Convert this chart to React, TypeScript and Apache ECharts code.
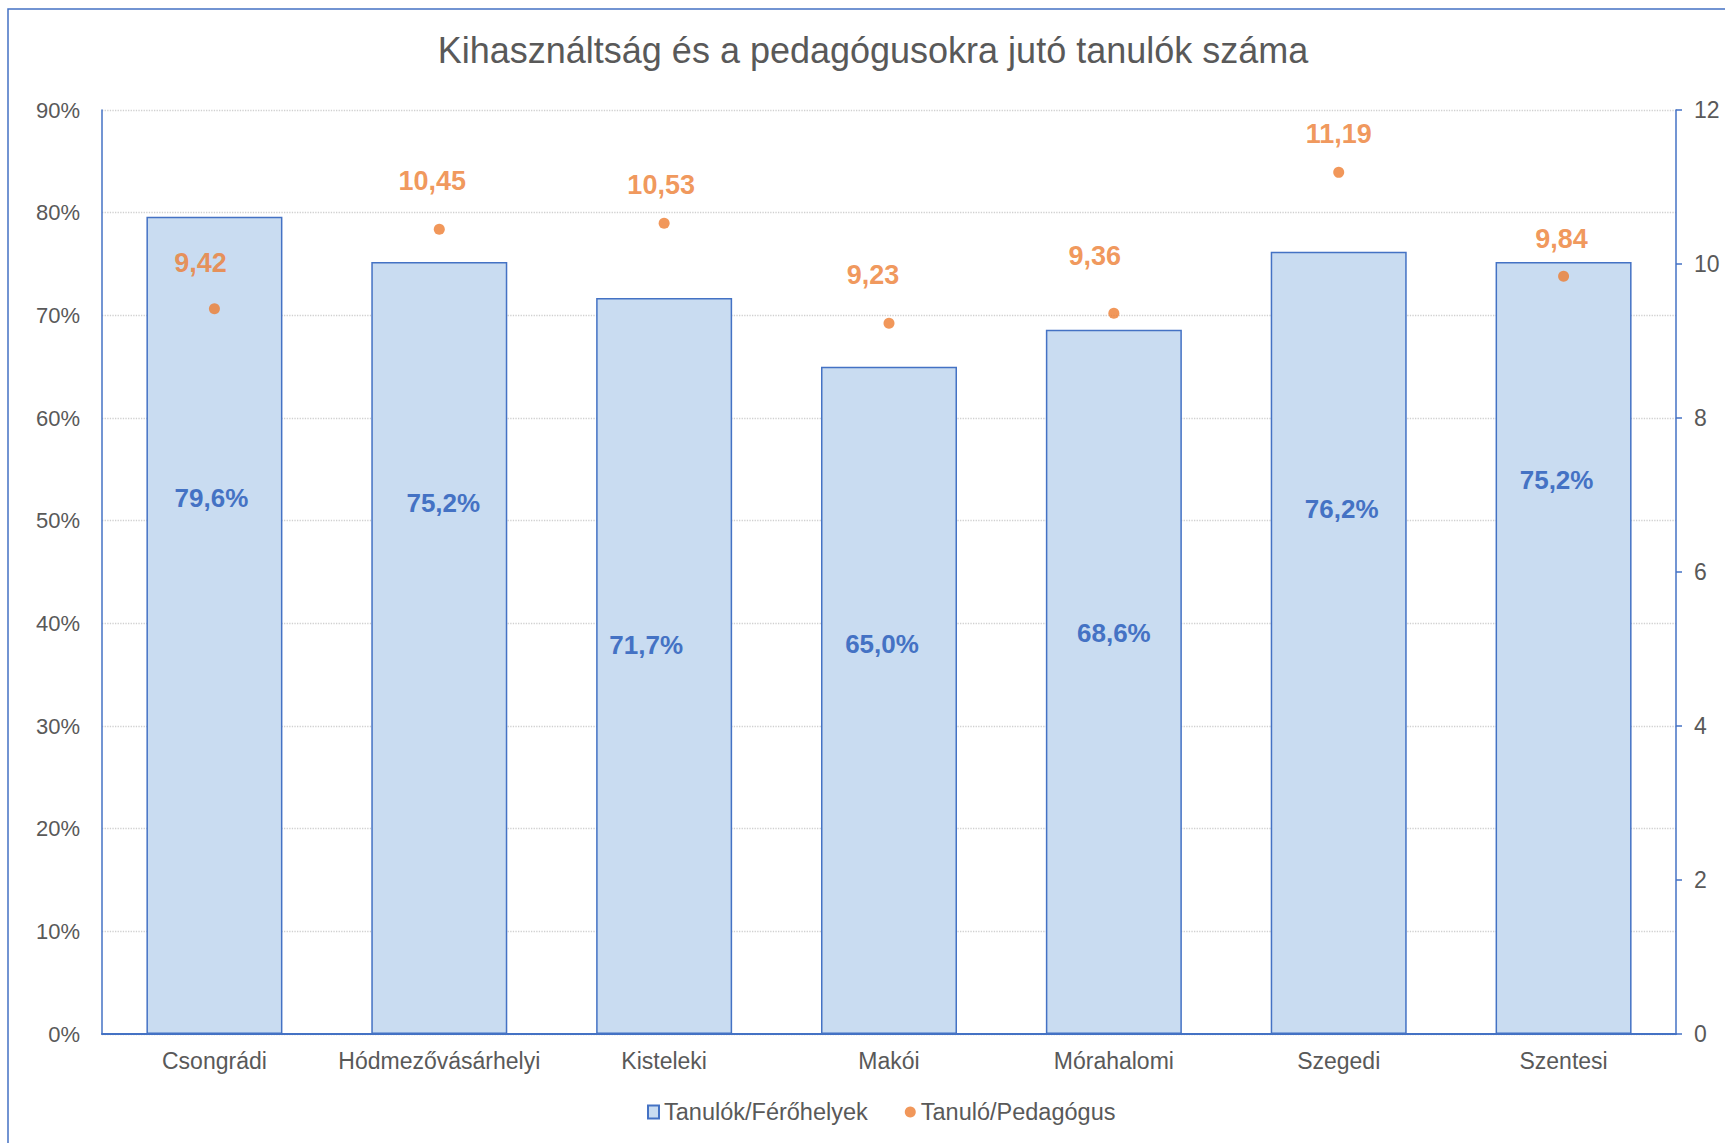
import React, { useEffect, useRef } from "react";
import * as echarts from "echarts";

const categories = ["Csongrádi", "Hódmezővásárhelyi", "Kisteleki", "Makói", "Mórahalomi", "Szegedi", "Szentesi"];
const utilisation = [79.6, 75.2, 71.7, 65.0, 68.6, 76.2, 75.2];
const studentsPerTeacher = [9.42, 10.45, 10.53, 9.23, 9.36, 11.19, 9.84];
const leftTicks = { min: 0, max: 90, interval: 10 };
const rightTicks = { min: 0, max: 12, interval: 2 };

// label placement (pixel offsets), layout only
const barLabelOffset = [[-3, -127], [4, -145], [-18, -21], [-7, -56], [0, -49], [3, -134], [-7, -168]];
const dotLabelOffset = [[-14, -46], [-7, -48], [-3, -38], [-16, -48], [-19, -57], [0, -38], [-2, -37]];

const BLUE = "#4472C4";
const ORANGE = "#ED7D31";
const GRAY = "#595959";
const FONT = "'Liberation Sans', Arial, sans-serif";

const fmt = (v: number, d: number) => v.toFixed(d).replace(".", ",");

export default function App() {
  const ref = useRef<HTMLDivElement>(null);
  useEffect(() => {
    if (!ref.current) return;
    const chart = echarts.init(ref.current, undefined, { renderer: "svg" });
    chart.setOption({
      animation: false,
      backgroundColor: "#fff",
      textStyle: { fontFamily: FONT },
      title: {
        text: "Kihasználtság és a pedagógusokra jutó tanulók száma",
        left: 868,
        textAlign: "center",
        top: 27,
        textStyle: { fontFamily: FONT, fontSize: 36, fontWeight: "normal", color: GRAY },
      },
      graphic: [
        {
          type: "rect",
          shape: { x: 8, y: 9, width: 1900, height: 1300 },
          style: { fill: "none", stroke: BLUE, lineWidth: 1.5 },
          silent: true,
        },
      ],
      legend: {
        bottom: 14,
        left: 642,
        itemWidth: 11,
        itemHeight: 13,
        itemGap: 37,
        textStyle: { fontFamily: FONT, fontSize: 23.5, color: GRAY },
        data: [
          { name: "Tanulók/Férőhelyek", icon: "rect" },
          { name: "Tanuló/Pedagógus", icon: "circle" },
        ],
      },
      grid: { left: 102, right: 49, top: 110, bottom: 109, containLabel: false },
      xAxis: {
        type: "category",
        data: categories,
        axisLine: { show: true, lineStyle: { color: BLUE, width: 2 } },
        axisTick: { show: false },
        axisLabel: { interval: 0, fontFamily: FONT, fontSize: 23, color: GRAY, margin: 15 },
      },
      yAxis: [
        {
          type: "value",
          min: leftTicks.min,
          max: leftTicks.max,
          interval: leftTicks.interval,
          axisLine: { show: true, lineStyle: { color: BLUE, width: 1.5 } },
          axisTick: { show: false },
          axisLabel: { formatter: "{value}%", fontFamily: FONT, fontSize: 22, color: GRAY, margin: 22 },
          splitLine: { show: true, lineStyle: { color: "#D0D0D0", type: "dotted", width: 1.3 } },
        },
        {
          type: "value",
          position: "right",
          min: rightTicks.min,
          max: rightTicks.max,
          interval: rightTicks.interval,
          axisLine: { show: true, lineStyle: { color: BLUE, width: 1.5 } },
          axisTick: { show: true, inside: false, length: 6, lineStyle: { color: BLUE, width: 1.5 } },
          axisLabel: { fontFamily: FONT, fontSize: 23, color: GRAY, margin: 18 },
          splitLine: { show: false },
        },
      ],
      series: [
        {
          name: "Tanulók/Férőhelyek",
          type: "bar",
          yAxisIndex: 0,
          barWidth: 136,
          itemStyle: { color: "#C9DCF1", borderColor: BLUE, borderWidth: 1.5 },
          data: utilisation.map((v, i) => ({
            value: v,
            label: { offset: barLabelOffset[i] },
          })),
          label: {
            show: true,
            position: "inside",
            formatter: (p: any) => fmt(p.value, 1) + "%",
            fontFamily: FONT,
            fontSize: 26,
            fontWeight: "bold",
            color: BLUE,
          },
          z: 2,
        },
        {
          name: "Tanuló/Pedagógus",
          type: "scatter",
          yAxisIndex: 1,
          symbol: "circle",
          symbolSize: 11,
          itemStyle: { color: ORANGE },
          data: studentsPerTeacher.map((v, i) => ({
            value: v,
            label: { offset: dotLabelOffset[i] },
          })),
          label: {
            show: true,
            position: "inside",
            formatter: (p: any) => fmt(p.value, 2),
            fontFamily: FONT,
            fontSize: 27,
            fontWeight: "bold",
            color: ORANGE,
          },
          z: 3,
        },
      ],
    });
    return () => chart.dispose();
  }, []);
  return (
    <div
      ref={ref}
      style={{ position: "fixed", left: 0, top: 0, width: 1725, height: 1143 }}
    />
  );
}
